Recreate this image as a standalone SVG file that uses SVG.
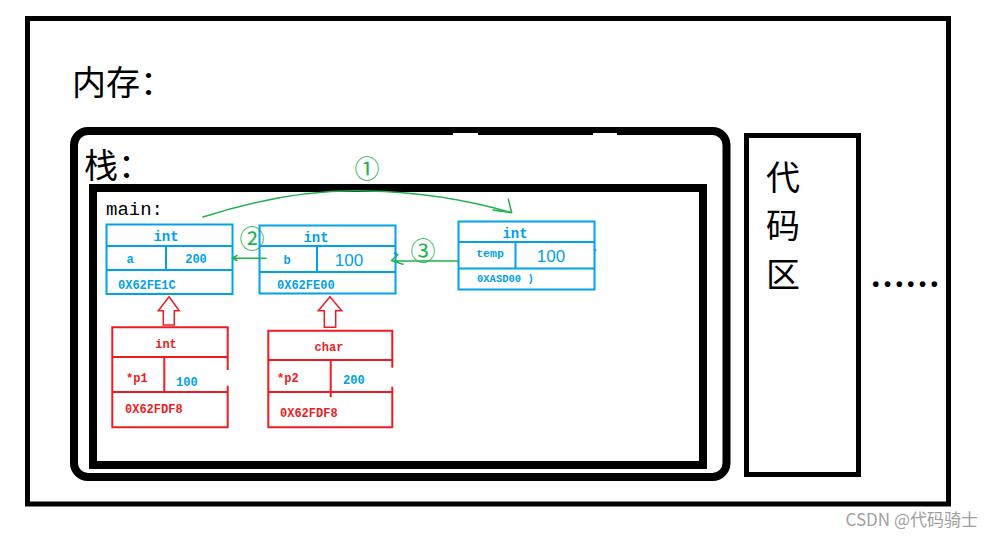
<svg xmlns="http://www.w3.org/2000/svg" width="995" height="538" viewBox="0 0 995 538">
<style>
.blk{fill:none;stroke:#000}
.cjk{font-family:"Noto Sans CJK SC","Noto Sans",sans-serif;fill:#000;font-size:34px}
.bl{fill:none;stroke:#00A2E8;stroke-width:2}
.rd{fill:none;stroke:#ED1C24;stroke-width:2}
.lb{font-family:"Liberation Mono",monospace;font-weight:bold;fill:#00A2E8}
.lr{font-family:"Liberation Mono",monospace;font-weight:bold;fill:#ED1C24}
.big{font-family:"Liberation Sans",Arial,sans-serif;font-size:17px;fill:#00A2E8}
.gr{fill:none;stroke:#22B14C;stroke-width:1.5;stroke-linecap:round;stroke-linejoin:round}
.gt{font-family:"Noto Sans CJK SC","DejaVu Sans",sans-serif;font-size:25px;fill:#22B14C}
</style>
<rect width="995" height="538" fill="#fff"/>

<g id="memory">
<rect class="blk" x="27.5" y="18.5" width="921" height="485.5" stroke-width="5"/>
<text class="cjk" x="72" y="95">内存：</text>
<text x="870" y="287" font-family="'Liberation Serif',serif" font-weight="bold" font-size="35" fill="#000">……</text>
</g>

<g id="stack">
<rect class="blk" x="74" y="131" width="652.5" height="346" rx="14" stroke-width="8"/>
<rect x="453" y="133" width="25" height="2" fill="#fff"/>
<rect x="593" y="133" width="24" height="2" fill="#fff"/>
<text class="cjk" x="84" y="178">栈：</text>
</g>

<g id="main">
<rect class="blk" x="93" y="188" width="610" height="277" stroke-width="8"/>
<text x="106" y="215" font-family="'Liberation Mono',monospace" font-size="19" fill="#000">main:</text>
</g>

<g id="code">
<rect class="blk" x="746.5" y="135.5" width="112" height="339" stroke-width="5"/>
<text class="cjk" x="766" y="190">代</text>
<text class="cjk" x="766" y="238">码</text>
<text class="cjk" x="766" y="287">区</text>
</g>

<g id="node-a">
<rect class="bl" x="106.5" y="224.5" width="126" height="69.5"/>
<path class="bl" d="M106.5 246H232.5M106.5 270H232.5M166 246V270"/>
<text class="lb" x="166" y="241" text-anchor="middle" font-size="14">int</text>
<text class="lb" x="130" y="263" text-anchor="middle" font-size="12">a</text>
<text class="lb" x="196" y="263" text-anchor="middle" font-size="12">200</text>
<text class="lb" x="118" y="289" font-size="12">0X62FE1C</text>
</g>

<g id="node-b">
<rect class="bl" x="259.5" y="225.5" width="136" height="68"/>
<path class="bl" d="M259.5 246H395.5M259.5 272H395.5M317 246V272"/>
<text class="lb" x="316" y="242" text-anchor="middle" font-size="14">int</text>
<text class="lb" x="287" y="264" text-anchor="middle" font-size="12">b</text>
<text class="big" x="349" y="266" text-anchor="middle">100</text>
<text class="lb" x="277" y="289" font-size="12">0X62FE00</text>
<path class="bl" d="M394 253l3 1" stroke-width="1.2"/>
</g>

<g id="node-temp">
<rect class="bl" x="458.5" y="221.5" width="136" height="68"/>
<path class="bl" d="M458.5 242H594.5M458.5 268.5H594.5M515.5 241V268.5"/>
<text class="lb" x="515" y="238" text-anchor="middle" font-size="14">int</text>
<text class="lb" x="490" y="257" text-anchor="middle" font-size="11.5">temp</text>
<text class="big" x="551" y="262" text-anchor="middle">100</text>
<text class="lb" x="477" y="282" font-size="10.5">0XASD00 )</text>
<path class="bl" d="M594 249l2 2" stroke-width="1.2"/>
</g>

<g id="node-p1">
<path class="rd" d="M227.7 370V327.3H112.3V427.3H227.7V385.7M112.3 357H228M112.3 392H228M164.3 357V392"/>
<text class="lr" x="166" y="348" text-anchor="middle" font-size="12">int</text>
<text class="lr" x="126" y="382" font-size="12">*p1</text>
<text class="lb" x="176" y="386" font-size="12">100</text>
<text class="lr" x="125" y="413" font-size="12">0X62FDF8</text>
</g>

<g id="node-p2">
<path class="rd" d="M392.3 367.7V330.7H268.3V427.3H392.3V386.7M268.3 360H392.3M268.3 392H392.3M330.7 359.3V397.3"/>
<text class="lr" x="329" y="351" text-anchor="middle" font-size="12">char</text>
<text class="lr" x="277" y="382" font-size="12">*p2</text>
<text class="lb" x="343" y="383.5" font-size="12">200</text>
<text class="lr" x="280" y="417" font-size="12">0X62FDF8</text>
</g>

<g id="connectors">
<polygon points="169,296.7 179.3,310.7 174.3,310.7 174.3,325 163.3,325 163.3,310.7 158.3,310.7" fill="#fff" stroke="#ED1C24" stroke-width="1.5"/>
<polygon points="330,296.7 341.7,310.7 335.7,310.7 335.7,327.3 324.3,327.3 324.3,310.7 318.3,310.7" fill="#fff" stroke="#ED1C24" stroke-width="1.5"/>
<path class="gr" d="M203 217Q290 189 366 191Q440 192 511.7 212.7M508.3 199.3L511.7 212.7L493 210"/>
<path class="gr" d="M266 258.3H232M237 255.5L232 258.3L237 260.5"/>
<path class="gr" d="M458 261H392M398 254.5L391.5 260.5L403 264.3"/>
<text class="gt" x="367" y="178" text-anchor="middle">①</text>
<text class="gt" x="252" y="248" text-anchor="middle">②</text>
<text class="gt" x="423" y="260" text-anchor="middle">③</text>
</g>

<text x="978" y="526" text-anchor="end" font-family="'Noto Sans CJK SC','Noto Sans',sans-serif" font-size="17" fill="#a0a0a0">CSDN @代码骑士</text>
</svg>
